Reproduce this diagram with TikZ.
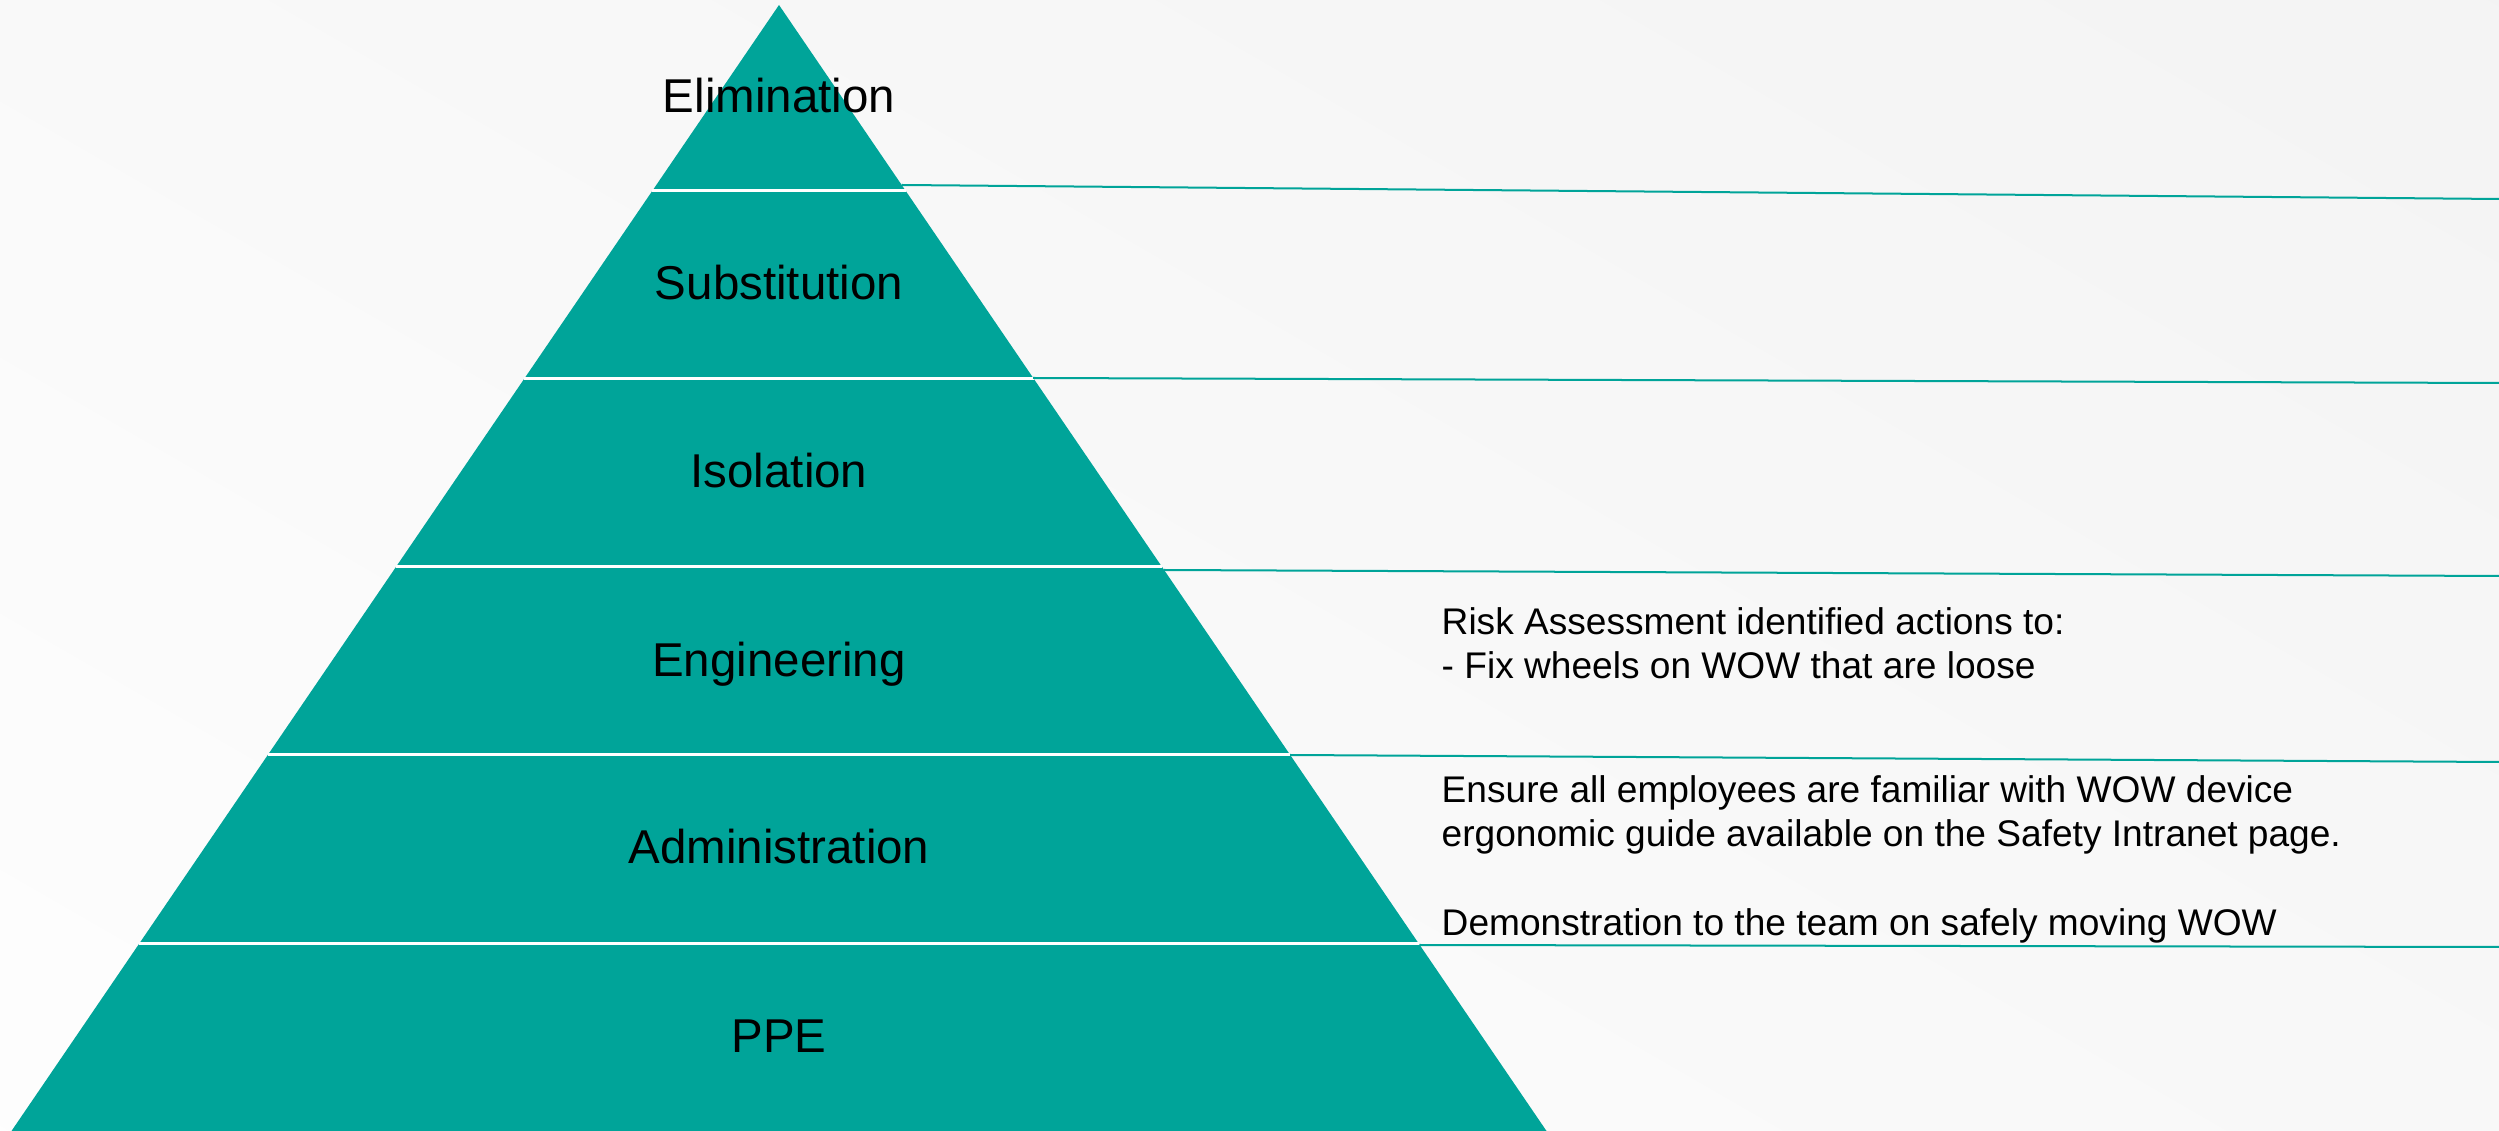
\documentclass[tikz,border=0pt]{standalone}
\usepackage{fontspec}
\setmainfont{Liberation Sans}
\usepackage{xcolor}
\usepackage{tikz}
\definecolor{cTeal}{RGB}{0,164,153}
\definecolor{cBack}{RGB}{242,242,242}

\begin{document}
\begin{tikzpicture}[x=0.01cm,y=-0.01cm,
  level/.style={anchor=base,inner sep=0pt,font=\fontsize{13.5}{16}\selectfont},
  action/.style={anchor=base west,align=left,inner sep=0pt,font=\fontsize{10.55}{12.66}\selectfont},
  gap/.style={white,line width=0.03cm},
  link/.style={cTeal,line width=0.02cm}]
\useasboundingbox (0,0) rectangle (2499,1131);
\begin{scope}
\clip (0,0) rectangle (2499,1131);
\shade[top color=cBack,bottom color=white,shading angle=-30] (-201.5,-885.5) rectangle (2700.5,2016.5);
\end{scope}
\fill[cTeal] (779,5) -- (1546.5,1131) -- (11.5,1131) -- cycle;
\draw[gap] (652.2,191) -- (905.8,191);
\draw[gap] (524.1,379) -- (1033.9,379);
\draw[gap] (395.9,567) -- (1162.1,567);
\draw[gap] (267.8,755) -- (1290.2,755);
\draw[gap] (139.0,944) -- (1419.0,944);
\node[level] (elim) at (779,113) {Elimination};
\node[level] (subst) at (779,300) {Substitution};
\node[level] (isol) at (779,488) {Isolation};
\node[level] (eng) at (779,677) {Engineering};
\node[level] (admin) at (779,864) {Administration};
\node[level] (ppe) at (779,1052) {PPE};
\coordinate (e1) at (901.7,185);
\coordinate (e2) at (1033.2,378);
\coordinate (e3) at (1164.1,570);
\coordinate (e4) at (1290.2,755);
\coordinate (e5) at (1419.7,945);
\coordinate (r1) at (2499,199);
\coordinate (r2) at (2499,383);
\coordinate (r3) at (2499,576);
\coordinate (r4) at (2499,762);
\coordinate (r5) at (2499,947);
\draw[link] (e1) -- (r1);
\draw[link] (e2) -- (r2);
\draw[link] (e3) -- (r3);
\draw[link] (e4) -- (r4);
\draw[link] (e5) -- (r5);
\node[action] (engact) at (1441,679) {Risk Assessment identified actions to:\\- Fix wheels on WOW that are loose};
\node[action] (adminact) at (1441,936) {Ensure all employees are familiar with WOW device\\ergonomic guide available on the Safety Intranet page.\\[12.66pt]Demonstration to the team on safely moving WOW};
\end{tikzpicture}
\end{document}
